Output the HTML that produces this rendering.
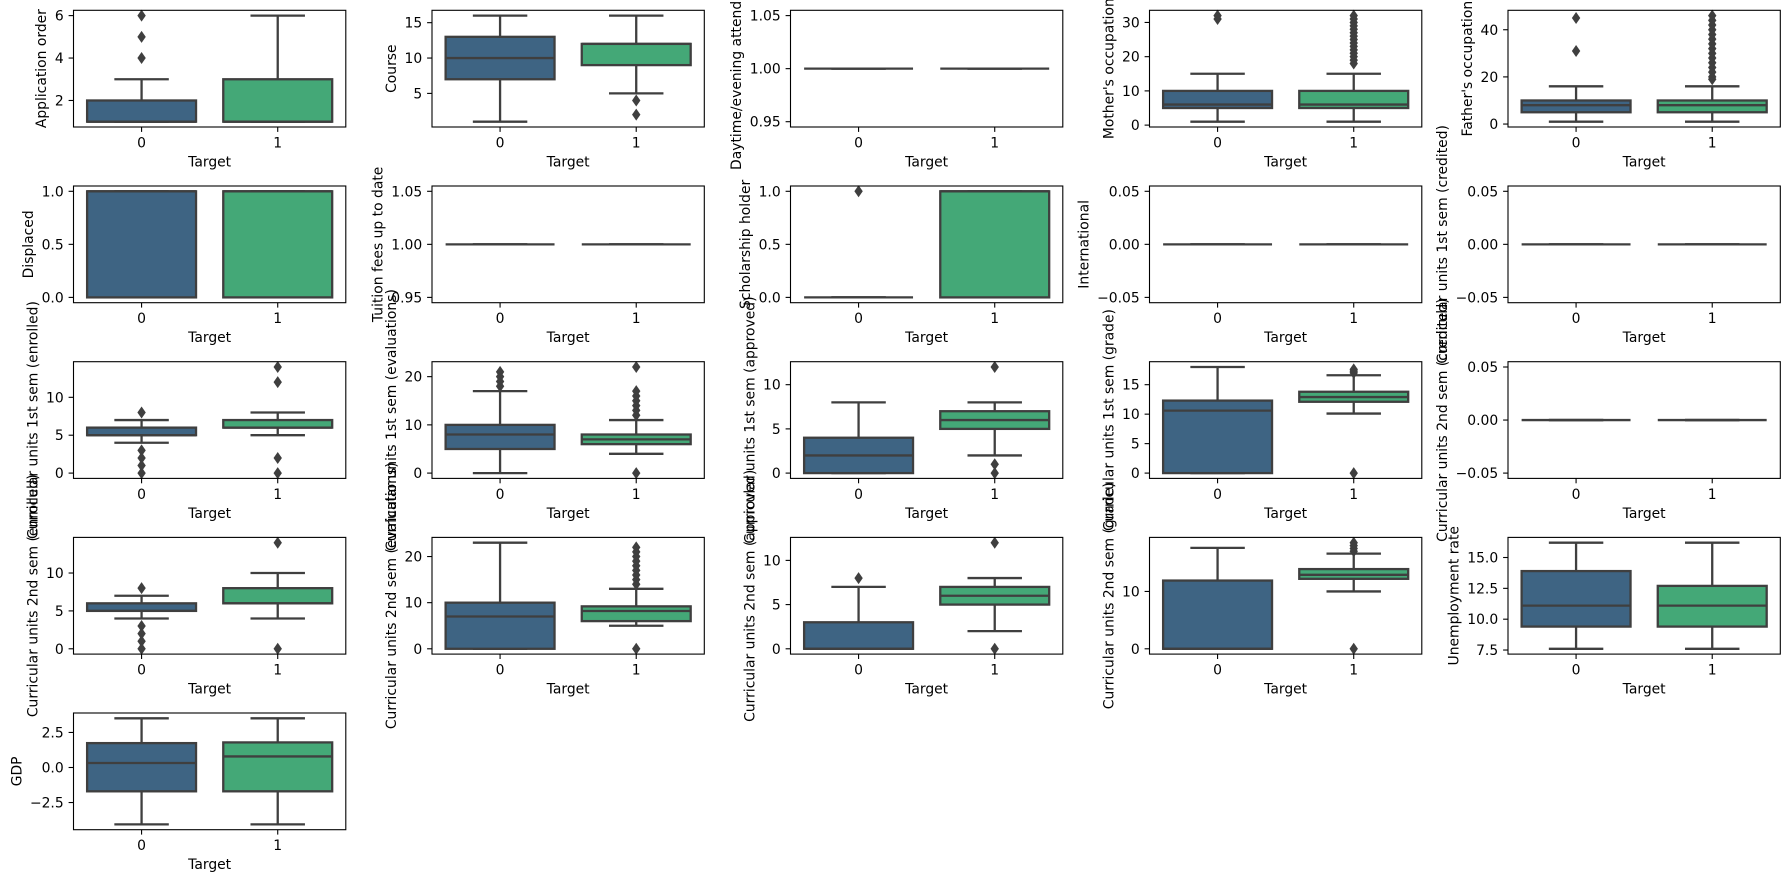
<!DOCTYPE html>
<html><head><meta charset="utf-8"><style>
html,body{margin:0;padding:0;background:#fff;}
svg{display:block;font-family:"DejaVu Sans","Liberation Sans",sans-serif;}
</style></head><body>
<svg id="chart" width="1789" height="882" viewBox="0 0 1789 882" xmlns="http://www.w3.org/2000/svg"></svg>
<script>
const labels=["Application order","Course","Daytime/evening attendance","Mother's occupation","Father's occupation",
"Displaced","Tuition fees up to date","Scholarship holder","International","Curricular units 1st sem (credited)",
"Curricular units 1st sem (enrolled)","Curricular units 1st sem (evaluations)","Curricular units 1st sem (approved)","Curricular units 1st sem (grade)","Curricular units 2nd sem (credited)",
"Curricular units 2nd sem (enrolled)","Curricular units 2nd sem (evaluations)","Curricular units 2nd sem (approved)","Curricular units 2nd sem (grade)","Unemployment rate",
"GDP"];
const categories=["0","1"];
const tickVals=[[2,4,6],[5,10,15],[0.95,1.00,1.05],[0,10,20,30],[0,20,40],
[0,0.5,1],[0.95,1.00,1.05],[0,0.5,1],[-0.05,0,0.05],[-0.05,0,0.05],
[0,5,10],[0,10,20],[0,5,10],[0,5,10,15],[-0.05,0,0.05],
[0,5,10],[0,10,20],[0,5,10],[0,10],[7.5,10,12.5,15],
[-2.5,0,2.5]];
const tickText=[["2","4","6"],["5","10","15"],["0.95","1.00","1.05"],["0","10","20","30"],["0","20","40"],
["0.0","0.5","1.0"],["0.95","1.00","1.05"],["0.0","0.5","1.0"],["\u22120.05","0.00","0.05"],["\u22120.05","0.00","0.05"],
["0","5","10"],["0","10","20"],["0","5","10"],["0","5","10","15"],["\u22120.05","0.00","0.05"],
["0","5","10"],["0","10","20"],["0","5","10"],["0","10"],["7.5","10.0","12.5","15.0"],
["\u22122.5","0.0","2.5"]];
const q1=[[1,1],[7,9],[1,1],[5,5],[5,5],[0,0],[1,1],[0,0],[0,0],[0,0],[5,6],[5,6],[0,5],[0,12.1],[0,0],[5,6],[0,6],[0,5],[0,12.2],[9.4,9.4],[-1.7,-1.7]];
const med=[[1,1],[10,12],[1,1],[6,6],[8,8],[1,1],[1,1],[0,1],[0,0],[0,0],[5,6],[8,7],[2,6],[10.6,12.9],[0,0],[5,6],[7,8.2],[0,6],[0,12.9],[11.1,11.1],[0.32,0.79]];
const q3=[[2,3],[13,12],[1,1],[10,10],[10,10],[1,1],[1,1],[0,1],[0,0],[0,0],[6,7],[10,8],[4,7],[12.3,13.8],[0,0],[6,8],[10,9.2],[3,7],[11.9,13.9],[13.9,12.7],[1.74,1.79]];
const wlo=[[1,1],[1,5],[1,1],[1,1],[1,1],[0,0],[1,1],[0,0],[0,0],[0,0],[4,5],[0,4],[0,2],[0,10.1],[0,0],[4,4],[0,5],[0,2],[0,10],[7.6,7.6],[-4.06,-4.06]];
const whi=[[3,6],[16,16],[1,1],[15,15],[16,16],[1,1],[1,1],[0,1],[0,0],[0,0],[7,8],[17,11],[8,8],[18,16.6],[0,0],[7,10],[23,13],[7,8],[17.6,16.6],[16.2,16.2],[3.51,3.51]];
const outliers=[[[4,5,6],[]],[[],[4,2]],[[],[]],[[31,32],[18,19,20,21,22,23,24,25,26,27,28,29,30,31,32]],[[31,45],[19,20,22,24,26,28,30,32,34,36,38,40,42,44,46]],
[[],[]],[[],[]],[[1],[]],[[],[]],[[],[]],
[[8,3,2,1,0],[14,12,2,0]],[[18,19,20,21],[12,13,14,15,16,17,22,0]],[[],[12,1,0]],[[],[17,17.3,17.6,0]],[[],[]],
[[8,3,2,1,0],[14,0]],[[],[14,15,16,17,18,19,20,21,22,0]],[[8],[12,0]],[[],[17,17.5,18,18.5,0]],[[],[]],
[[],[]]];

const colors=["#3e6483","#44a877"];
const svg=document.getElementById('chart');
const NS="http://www.w3.org/2000/svg";
const colLeft=[73.5,432,790.5,1149.5,1508], rowTop=[10.3,186,361.7,537.4,713];
const W=272.3,H=116.7,FS=13.9,LW=2.3;
function mk(tag,attrs,parent){const e=document.createElementNS(NS,tag);for(const k in attrs)e.setAttribute(k,attrs[k]);(parent||svg).appendChild(e);return e;}
function slug(s){return s.toLowerCase().replace(/[^a-z0-9]+/g,'-').replace(/^-|-$/g,'');}

for(let i=0;i<labels.length;i++){
  const L=colLeft[i%5],T=rowTop[Math.floor(i/5)];
  const g=mk('g',{});
  
  
  let all=[];for(let c=0;c<2;c++){all.push(wlo[i][c],whi[i][c],q1[i][c],q3[i][c],...outliers[i][c]);}
  let mn=Math.min(...all),mx=Math.max(...all);
  if(mx===mn){const d=mn===0?0.05:Math.abs(mn)*0.05;mn-=d;mx+=d;}
  const pad=(mx-mn)*0.05;const y0=mn-pad,y1=mx+pad;
  const Y=v=>T+H-(v-y0)/(y1-y0)*H;
  const X=c=>L+W*(0.25+0.5*c);
  for(let c=0;c<2;c++){
    const bw=W*0.5*0.8, cx=X(c);
    const bg=mk('g',{},g);
    
    
    mk('line',{x1:cx,x2:cx,y1:Y(q1[i][c]),y2:Y(wlo[i][c]),stroke:'#3f3f3f','stroke-width':LW},bg);
    mk('line',{x1:cx,x2:cx,y1:Y(q3[i][c]),y2:Y(whi[i][c]),stroke:'#3f3f3f','stroke-width':LW},bg);
    mk('line',{x1:cx-bw/4,x2:cx+bw/4,y1:Y(wlo[i][c]),y2:Y(wlo[i][c]),stroke:'#3f3f3f','stroke-width':LW},bg);
    mk('line',{x1:cx-bw/4,x2:cx+bw/4,y1:Y(whi[i][c]),y2:Y(whi[i][c]),stroke:'#3f3f3f','stroke-width':LW},bg);
    const yt=Y(q3[i][c]),yb=Y(q1[i][c]);
    mk('rect',{x:cx-bw/2,y:yt,width:bw,height:Math.max(yb-yt,0),fill:colors[c],stroke:'#3f3f3f','stroke-width':LW},bg);
    mk('line',{x1:cx-bw/2,x2:cx+bw/2,y1:Y(med[i][c]),y2:Y(med[i][c]),stroke:'#3f3f3f','stroke-width':LW},bg);
    for(const o of outliers[i][c]){
      const oy=Y(o);
      const p=mk('path',{d:`M${cx} ${oy-6}L${cx+4.2} ${oy}L${cx} ${oy+6}L${cx-4.2} ${oy}Z`,fill:'#3f3f3f'},bg);
      
      
    }
  }
  const fr=mk('rect',{x:L,y:T,width:W,height:H,fill:'none',stroke:'#000','stroke-width':1.1},g);
  
  
  let maxw=0;
  tickVals[i].forEach((v,k)=>{
    const ty=Y(v);
    mk('line',{x1:L-4.9,x2:L,y1:ty,y2:ty,stroke:'#000','stroke-width':1.1},g);
    const t=mk('text',{x:L-9.8,y:ty+5,'text-anchor':'end','font-size':FS,fill:'#000'},g);
    t.textContent=tickText[i][k];
    
    
    maxw=Math.max(maxw,t.getComputedTextLength());
  });
  for(let c=0;c<2;c++){
    mk('line',{x1:X(c),x2:X(c),y1:T+H,y2:T+H+4.9,stroke:'#000','stroke-width':1.1},g);
    const t=mk('text',{x:X(c),y:T+H+20.5,'text-anchor':'middle','font-size':FS,fill:'#000'},g);
    t.textContent=categories[c];
    
    
  }
  const xl=mk('text',{x:L+W/2,y:T+H+39.5,'text-anchor':'middle','font-size':FS,fill:'#000'},g);
  xl.textContent='Target';
  
  
  const yx=L-9.8-maxw-13.5, yy=T+H/2;
  const yl=mk('text',{x:yx,y:yy,'text-anchor':'middle','font-size':FS,fill:'#000',transform:`rotate(-90 ${yx} ${yy})`,dy:'0.35em'},g);
  yl.textContent=labels[i];
  
  
}
</script>
</body></html>
